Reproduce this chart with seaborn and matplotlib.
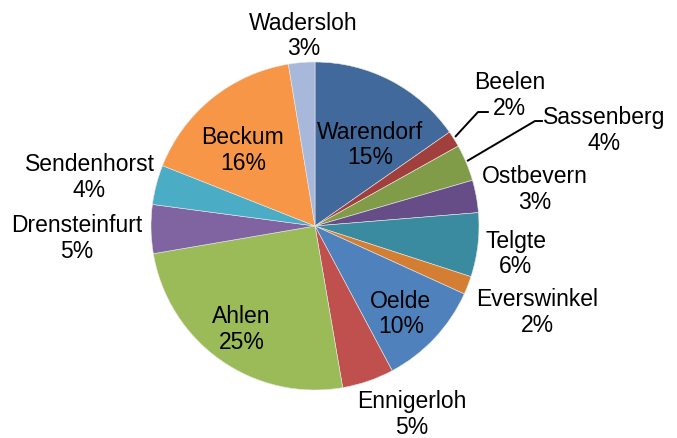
import numpy as np
import matplotlib
matplotlib.use("Agg")
import matplotlib.pyplot as plt
import seaborn as sns

# share of each town (percent), clockwise from 12 o'clock
towns = ["Warendorf", "Beelen", "Sassenberg", "Ostbevern", "Telgte", "Everswinkel",
         "Oelde", "Ennigerloh", "Ahlen", "Drensteinfurt", "Sendenhorst", "Beckum", "Wadersloh"]
shares = [15.3, 1.6, 3.6, 3.2, 6.3, 1.8, 10.4, 5.1, 25.0, 4.8, 3.9, 16.4, 2.6]
colors = ["#41699C", "#A13F3D", "#809C48", "#674D88", "#3A8B9F", "#D37E33",
          "#4F81BD", "#C0504D", "#9BBB59", "#8064A2", "#4BACC6", "#F79646", "#A8B8DA"]

sns.set_theme(style="white")
plt.rcParams["font.family"] = ["Liberation Sans", "DejaVu Sans"]

fig = plt.figure(figsize=(6.77, 4.39), dpi=100)
ax = fig.add_axes([0, 0, 1, 1])

wedges, _ = ax.pie(shares, colors=colors, startangle=90, counterclock=False,
                   radius=1.0, wedgeprops=dict(edgecolor="#e8e8e8", linewidth=0.4))

# label placement (pie units, radius = 1)
label_pos = {
    "Warendorf": (0.335, 0.50), "Beelen": (1.186, 0.80), "Sassenberg": (1.765, 0.59),
    "Ostbevern": (1.338, 0.23), "Telgte": (1.223, -0.165), "Everswinkel": (1.354, -0.52),
    "Oelde": (0.524, -0.53), "Ennigerloh": (0.588, -1.145), "Ahlen": (-0.448, -0.625),
    "Drensteinfurt": (-1.454, -0.07), "Sendenhorst": (-1.375, 0.30), "Beckum": (-0.44, 0.465),
    "Wadersloh": (-0.07, 1.165),
}
# leader lines: (start on wedge, elbow, end)
leaders = {
    "Beelen": [(0.854, 0.543), (0.994, 0.695), (1.06, 0.695)],
    "Sassenberg": [(0.927, 0.396), (1.341, 0.640), (1.39, 0.640)],
}

total = sum(shares)
for name, val in zip(towns, shares):
    x, y = label_pos[name]
    ax.text(x, y, f"{name}\n{val / total * 100:.0f}%", ha="center", va="center",
            fontsize=16.5, color="black", linespacing=1.15)
    if name in leaders:
        pts = np.array(leaders[name])
        ax.plot(pts[:, 0], pts[:, 1], color="black", lw=1.4, solid_capstyle="butt")

scale = 164.0
ax.set_xlim(-315 / scale, (677 - 315) / scale)
ax.set_ylim(-(439 - 227) / scale, 227 / scale)
ax.set_aspect("auto")
ax.axis("off")

fig.savefig("out.png", dpi=100, facecolor="white")
